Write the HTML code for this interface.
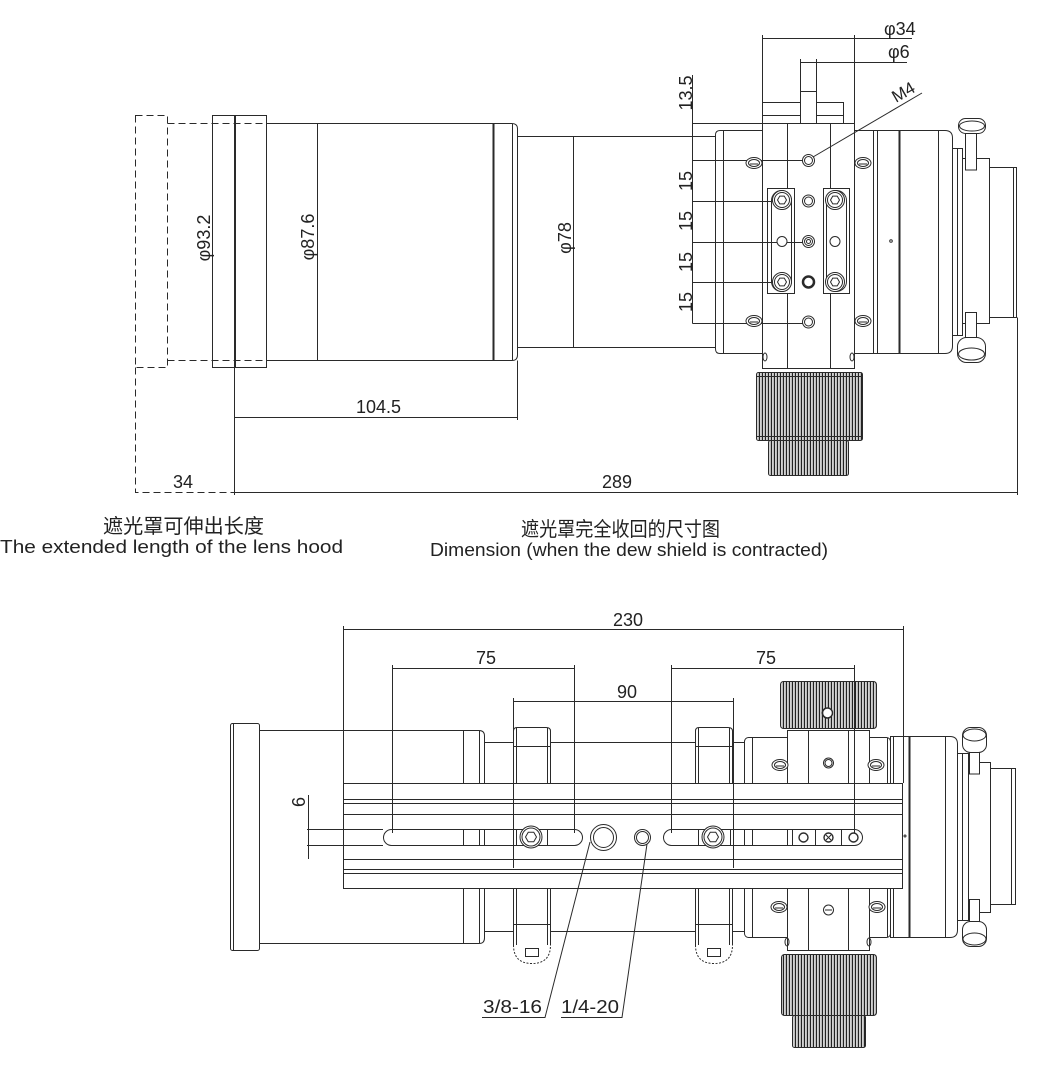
<!DOCTYPE html>
<html><head><meta charset="utf-8"><title>drawing</title>
<style>
html,body{margin:0;padding:0;background:#fff;width:1040px;height:1071px;overflow:hidden}
svg{display:block}
text{font-family:"Liberation Sans","Noto Sans CJK SC",sans-serif;fill:#222;stroke:none}
</style></head><body>
<svg xmlns="http://www.w3.org/2000/svg" xmlns:xlink="http://www.w3.org/1999/xlink" width="1040" height="1071" viewBox="0 0 1040 1071">
<defs>
<pattern id="kn" patternUnits="userSpaceOnUse" width="3" height="10">
<rect width="3" height="10" fill="#fff"/>
<rect x="0" width="1.2" height="10" fill="#222"/>
<rect x="2" width="0.5" height="10" fill="#777"/>
</pattern>
<g id="hb">
<circle r="9.5" fill="#fff"/><circle r="7.5" fill="none"/>
<polygon fill="none" points="4.5,0 2.25,3.9 -2.25,3.9 -4.5,0 -2.25,-3.9 2.25,-3.9"/>
</g>
<g id="hb2">
<circle r="11" fill="#fff"/><circle r="9" fill="none"/>
<polygon fill="none" points="5.5,0 2.75,4.8 -2.75,4.8 -5.5,0 -2.75,-4.8 2.75,-4.8"/>
</g>
<g id="cs">
<ellipse rx="8" ry="5.5" fill="#fff"/><ellipse rx="5.5" ry="3.5" fill="none"/>
<path d="M-4,1H4" fill="none"/>
</g>
</defs>

<g fill="none" stroke="#2a2a2a" stroke-width="1">
<!-- ================= TOP VIEW ================= -->
<g stroke-dasharray="7,4">
<rect x="135.5" y="115.5" width="32" height="252"/>
<path d="M167.5,123.5H266M167.5,360.5H266M135.5,367.5V492.5H234"/>
</g>
<rect x="212.5" y="115.5" width="22" height="252"/>
<rect x="235.5" y="115.5" width="31" height="252"/>
<path d="M266.5,123.5H512Q517.5,123.5 517.5,129V355Q517.5,360.5 512,360.5H266.5"/>
<path d="M317.5,123.5V360.5M512.5,123.5V360.5"/>
<path d="M493.5,123.5V360.5" stroke-width="2"/>
<path d="M517.5,136.5H715.5M517.5,347.5H715.5M573.5,136.5V347.5"/>

<!-- body -->
<path d="M762.5,130.5H720Q715.5,130.5 715.5,135V349Q715.5,353.5 720,353.5H762.5"/>
<path d="M723.5,130.5V353.5"/>
<path d="M854.5,130.5H945Q952.5,130.5 952.5,138V346Q952.5,353.5 945,353.5H854.5"/>
<path d="M873.5,130.5V353.5M877.5,130.5V353.5M938.5,130.5V353.5"/>
<path d="M899.5,130.5V353.5" stroke-width="2"/>
<circle cx="891" cy="241" r="1.3"/>

<!-- back end -->
<rect x="952.5" y="148.5" width="10" height="187" fill="#fff"/>
<path d="M957.5,148.5V335.5"/>
<rect x="962.5" y="158.5" width="27" height="165" fill="#fff"/>
<rect x="989.5" y="167.5" width="27" height="150" fill="#fff"/>
<path d="M1013.5,167.5V317.5"/>
<rect x="965.5" y="130" width="11" height="40" fill="#fff"/>
<rect x="958.5" y="118.5" width="27" height="15" rx="7" fill="#fff"/>
<ellipse cx="972" cy="126" rx="12.5" ry="5"/>
<rect x="965.5" y="312.5" width="11" height="26" fill="#fff"/>
<rect x="957.5" y="337.5" width="28" height="25" rx="9" fill="#fff"/>
<ellipse cx="971.5" cy="354" rx="13" ry="6"/>

<!-- saddle -->
<rect x="762.5" y="123.5" width="92" height="245" fill="#fff"/>
<path d="M787.5,123.5V368.5M830.5,123.5V368.5"/>
<ellipse cx="765" cy="357" rx="2" ry="4"/>
<ellipse cx="852" cy="357" rx="2" ry="4"/>
<rect x="762.5" y="102.5" width="81" height="21" fill="#fff"/>
<path d="M762.5,115.5H843.5"/>
<rect x="800.5" y="91.5" width="16" height="32" fill="#fff"/>

<!-- knurled knob top view -->
<rect x="756.5" y="372.5" width="106" height="68" rx="2" fill="url(#kn)"/>
<path d="M756.5,376.5H862.5M756.5,436.5H862.5"/>
<rect x="768.5" y="440.5" width="80" height="35" rx="2" fill="url(#kn)"/>

<!-- plates -->
<rect x="767.5" y="188.5" width="27" height="105" fill="#fff"/>
<rect x="771.5" y="190.5" width="20" height="101" rx="10"/>
<rect x="823.5" y="188.5" width="26" height="105" fill="#fff"/>
<rect x="826.5" y="190.5" width="20" height="101" rx="10"/>

<!-- top dims -->
<path d="M762.5,35V102M854.5,35V123M762.5,38.5H912"/>
<path d="M800.5,59V91M816.5,59V91M800.5,62.5H907"/>
<path d="M692.5,75V323.5"/>
<path d="M692.5,123.5H762M692.5,136.5H715M692.5,160.5H803M692.5,201.5H776M692.5,242.5H803M692.5,282.5H776M692.5,323.5H803"/>
<path d="M813,157L922,93"/>
<path d="M234.5,367.5V495M517.5,360.5V420M234.5,417.5H517.5M234.5,492.5H1017.5M1017.5,317.5V495"/>

<!-- holes top -->
<circle cx="808.5" cy="160.5" r="6" fill="#fff"/><circle cx="808.5" cy="160.5" r="4"/>
<use xlink:href="#cs" x="754" y="163"/>
<use xlink:href="#cs" x="863" y="163"/>
<use xlink:href="#cs" x="754" y="321"/>
<use xlink:href="#cs" x="863" y="321"/>
<use xlink:href="#hb" x="782" y="200"/>
<use xlink:href="#hb" x="782" y="282"/>
<use xlink:href="#hb" x="835" y="200"/>
<use xlink:href="#hb" x="835" y="282"/>
<circle cx="782" cy="241.5" r="5" fill="#fff"/>
<circle cx="835" cy="241.5" r="5" fill="#fff"/>
<circle cx="808.5" cy="201" r="6" fill="#fff"/><circle cx="808.5" cy="201" r="4"/>
<circle cx="808.5" cy="241.5" r="6" fill="#fff"/><circle cx="808.5" cy="241.5" r="4"/><circle cx="808.5" cy="241.5" r="2"/>
<circle cx="808.5" cy="282" r="5.5" fill="#fff" stroke-width="2.5"/>
<circle cx="808.5" cy="322" r="6" fill="#fff"/><circle cx="808.5" cy="322" r="4"/>

<!-- ================= BOTTOM VIEW ================= -->
<rect x="230.5" y="723.5" width="29" height="227" rx="2" fill="#fff"/>
<path d="M233.5,723.5V950.5"/>
<path d="M259.5,730.5H479Q484.5,730.5 484.5,736V938Q484.5,943.5 479,943.5H259.5"/>
<path d="M463.5,730.5V943.5M479.5,730.5V943.5"/>
<path d="M484.5,742.5H744M484.5,931.5H744"/>

<!-- rings -->
<g>
<path d="M513.5,945V731Q513.5,727.5 517,727.5H546Q550.5,727.5 550.5,731V945" fill="#fff"/>
<path d="M516.5,728V945M547.5,728V945M513.5,746.5H550.5M513.5,924.5H550.5"/>
<path d="M513.5,945Q513.5,963.5 532,963.5Q550.5,963.5 550.5,945" fill="#fff" stroke-dasharray="2,1.5"/>
<rect x="525.5" y="948.5" width="13" height="8" fill="#fff"/>
</g>
<g transform="translate(182,0)">
<path d="M513.5,945V731Q513.5,727.5 517,727.5H546Q550.5,727.5 550.5,731V945" fill="#fff"/>
<path d="M516.5,728V945M547.5,728V945M513.5,746.5H550.5M513.5,924.5H550.5"/>
<path d="M513.5,945Q513.5,963.5 532,963.5Q550.5,963.5 550.5,945" fill="#fff" stroke-dasharray="2,1.5"/>
<rect x="525.5" y="948.5" width="13" height="8" fill="#fff"/>
</g>

<!-- body bottom view -->
<rect x="744.5" y="737.5" width="146" height="200" rx="4" fill="#fff"/>
<path d="M752.5,737.5V937.5M887.5,737.5V937.5"/>
<rect x="787.5" y="730.5" width="82" height="220" fill="#fff"/>
<path d="M808.5,730.5V950.5M848.5,730.5V950.5"/>
<path d="M890.5,736.5H950Q957.5,736.5 957.5,744V930Q957.5,937.5 950,937.5H890.5Z" fill="#fff"/>
<path d="M893.5,736.5V937.5M945.5,736.5V937.5"/>
<path d="M909.5,736.5V937.5" stroke-width="2"/>
<rect x="957.5" y="753.5" width="11" height="167" fill="#fff"/>
<path d="M962.5,753.5V920.5"/>
<rect x="968.5" y="762.5" width="22" height="150" fill="#fff"/>
<rect x="990.5" y="768.5" width="25" height="136" fill="#fff"/>
<path d="M1011.5,768.5V904.5"/>
<rect x="969.5" y="748" width="10" height="26" fill="#fff"/>
<rect x="962.5" y="727.5" width="24" height="25" rx="8" fill="#fff"/>
<ellipse cx="974.5" cy="735" rx="11.5" ry="6"/>
<rect x="969.5" y="899.5" width="10" height="26" fill="#fff"/>
<rect x="962.5" y="921.5" width="24" height="25" rx="8" fill="#fff"/>
<ellipse cx="974.5" cy="939" rx="11.5" ry="6"/>

<!-- screws on body bottom view -->
<use xlink:href="#cs" x="780" y="765"/>
<use xlink:href="#cs" x="876" y="765"/>
<circle cx="828.5" cy="763" r="5" fill="#fff"/><circle cx="828.5" cy="763" r="3.5"/>
<use xlink:href="#cs" x="779" y="907"/>
<use xlink:href="#cs" x="877" y="907"/>
<circle cx="828.5" cy="910" r="5" fill="#fff"/><path d="M825,910H832"/>

<!-- knobs bottom view -->
<rect x="780.5" y="681.5" width="96" height="47" rx="3" fill="url(#kn)"/>
<circle cx="827.5" cy="713" r="5" fill="#fff" stroke-width="1.5"/>
<rect x="781.5" y="954.5" width="95" height="61" rx="3" fill="url(#kn)"/>
<rect x="792.5" y="1015.5" width="73" height="32" rx="2" fill="url(#kn)"/>
<ellipse cx="787" cy="942" rx="2" ry="4"/>
<ellipse cx="869" cy="942" rx="2" ry="4"/>

<!-- rail -->
<rect x="343.5" y="783.5" width="559" height="105" fill="#fff"/>
<path d="M343.5,799.5H902.5M343.5,803.5H902.5M343.5,814.5H902.5M343.5,859.5H902.5M343.5,869.5H902.5M343.5,873.5H902.5"/>
<circle cx="905" cy="836" r="1"/>
<rect x="383.5" y="829.5" width="199" height="16" rx="8" fill="#fff"/>
<rect x="663.5" y="829.5" width="199" height="16" rx="8" fill="#fff"/>
<path d="M463.5,829.5V845.5M479.5,829.5V845.5M484.5,829.5V845.5M516.5,829.5V845.5M547.5,829.5V845.5"/>
<path d="M698.5,829.5V845.5M730.5,829.5V845.5M744.5,829.5V845.5M752.5,829.5V845.5M787.5,829.5V845.5M792.5,829.5V845.5M815.5,829.5V845.5M841.5,829.5V845.5"/>
<use xlink:href="#hb2" x="531" y="837"/>
<use xlink:href="#hb2" x="713" y="837"/>
<circle cx="603.5" cy="837.5" r="13" fill="#fff"/><circle cx="603.5" cy="837.5" r="10"/>
<circle cx="642.5" cy="837.5" r="8" fill="#fff"/><circle cx="642.5" cy="837.5" r="6"/>
<circle cx="803.5" cy="837.5" r="4.5" fill="#fff" stroke-width="1.4"/>
<circle cx="828.5" cy="837.5" r="4.5" fill="#fff" stroke-width="1.4"/><path d="M826,835L831,840M831,835L826,840"/>
<circle cx="853.5" cy="837.5" r="4.5" fill="#fff" stroke-width="1.4"/>

<!-- bottom dims -->
<path d="M343.5,629.5H903.5M343.5,626V783M903.5,626V783"/>
<path d="M392.5,668.5H574.5M392.5,665V833M574.5,665V833"/>
<path d="M671.5,668.5H854.5M671.5,665V833M854.5,665V833"/>
<path d="M513.5,701.5H733.5M513.5,698V868M733.5,698V868"/>
<path d="M307,829.5H383M307,845.5H383M308.5,795V859"/>
<path d="M590,842L545,1017.5H482M647,844L622,1017.5H561"/>
</g>

<!-- ================= TEXT ================= -->
<g font-size="18">
<text x="884" y="35">φ34</text>
<text x="888" y="58">φ6</text>
<text transform="translate(896,103) rotate(-30)" font-size="17">M4</text>
<text transform="translate(692,93) rotate(-90)" text-anchor="middle">13.5</text>
<text transform="translate(692,181) rotate(-90)" text-anchor="middle">15</text>
<text transform="translate(692,221) rotate(-90)" text-anchor="middle">15</text>
<text transform="translate(692,262) rotate(-90)" text-anchor="middle">15</text>
<text transform="translate(692,302) rotate(-90)" text-anchor="middle">15</text>
<text transform="translate(210,238) rotate(-90)" text-anchor="middle">φ93.2</text>
<text transform="translate(314,237) rotate(-90)" text-anchor="middle">φ87.6</text>
<text transform="translate(571,238) rotate(-90)" text-anchor="middle">φ78</text>
<text x="378.5" y="413" text-anchor="middle">104.5</text>
<text x="183" y="488" text-anchor="middle">34</text>
<text x="617" y="488" text-anchor="middle">289</text>
<text x="628" y="626" text-anchor="middle">230</text>
<text x="486" y="664" text-anchor="middle">75</text>
<text x="766" y="664" text-anchor="middle">75</text>
<text x="627" y="698" text-anchor="middle">90</text>
<text transform="translate(305,802) rotate(-90)" text-anchor="middle">6</text>
<text x="483" y="1013" textLength="59" lengthAdjust="spacingAndGlyphs">3/8-16</text>
<text x="561" y="1013" textLength="58" lengthAdjust="spacingAndGlyphs">1/4-20</text>
</g>

<text x="103" y="533" font-size="20" textLength="161" lengthAdjust="spacingAndGlyphs">遮光罩可伸出长度</text>
<text x="0" y="553" font-size="18" textLength="343" lengthAdjust="spacingAndGlyphs">The extended length of the lens hood</text>
<text x="521" y="536" font-size="20" textLength="199" lengthAdjust="spacingAndGlyphs">遮光罩完全收回的尺寸图</text>
<text x="430" y="556" font-size="18" textLength="398" lengthAdjust="spacingAndGlyphs">Dimension (when the dew shield is contracted)</text>
</svg>
</body></html>
